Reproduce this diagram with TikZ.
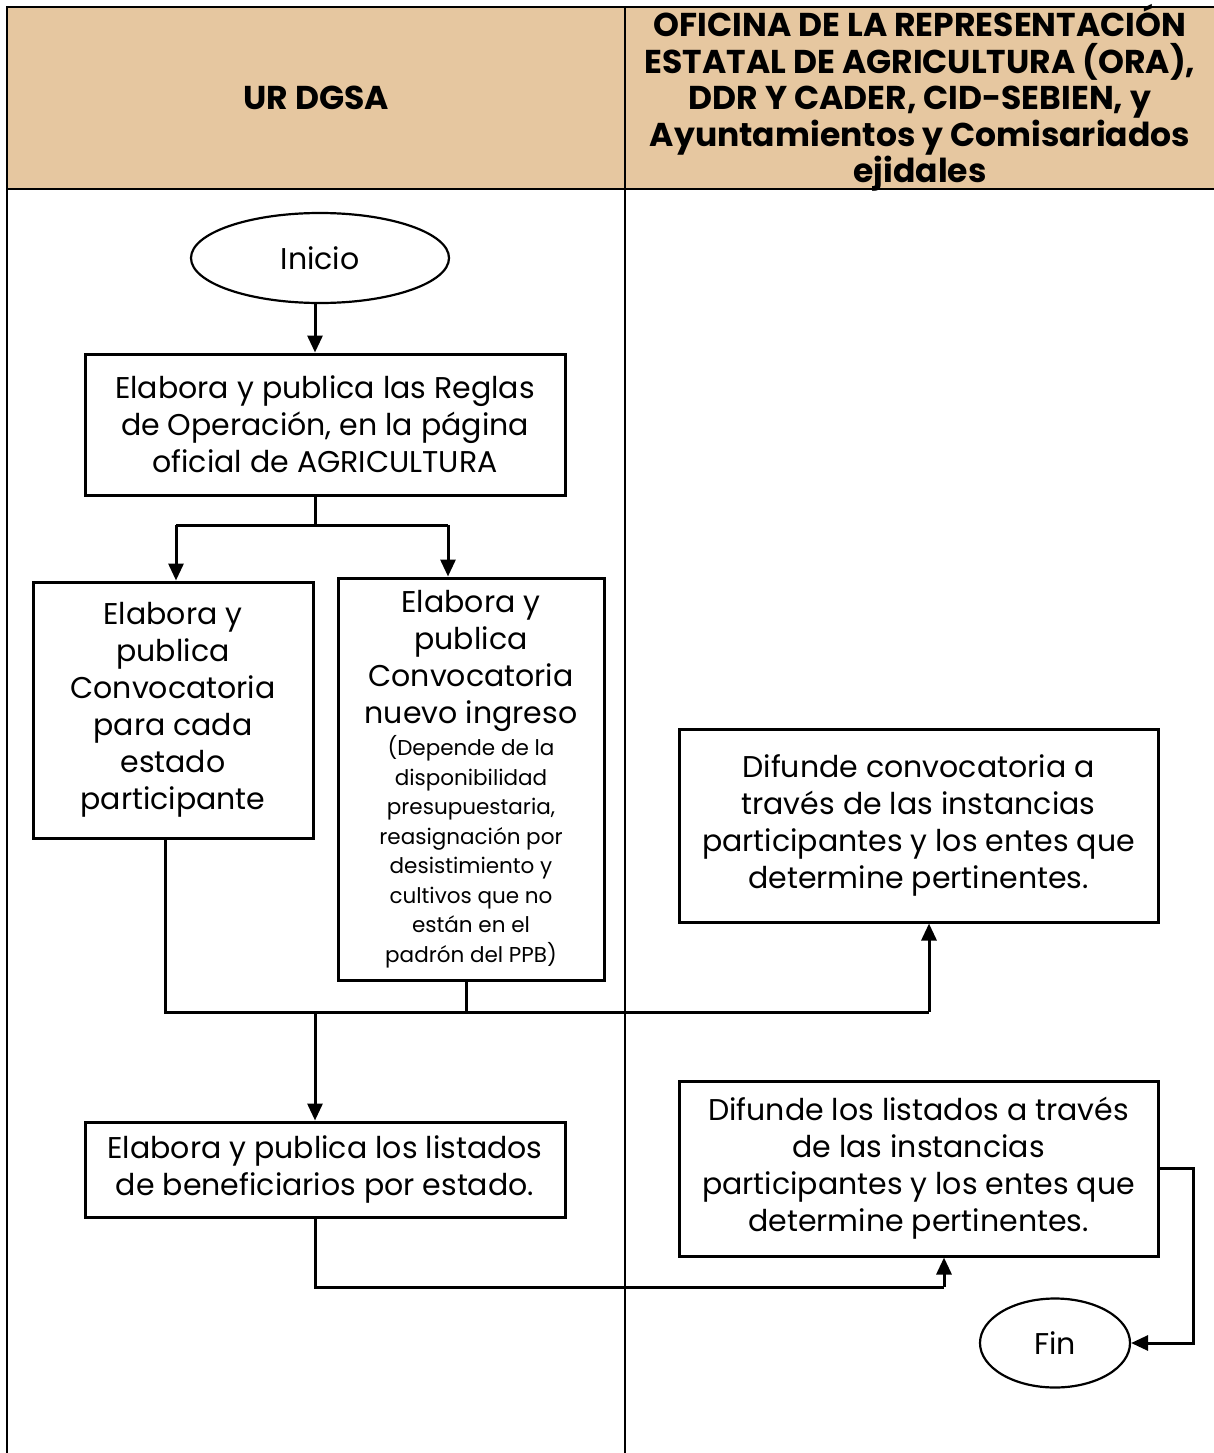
\documentclass[tikz,border=0pt]{standalone}
\usepackage{fontspec}
\setmainfont{Poppins}
\usetikzlibrary{arrows.meta,shapes.geometric}
\definecolor{headtan}{HTML}{E6C7A0}
\newcommand\smtxt{\fontsize{21.5}{29.5}\selectfont}
\tikzset{
  procbox/.style={draw=black, line width=3pt, fill=white, align=center, inner sep=0pt, font=\fontsize{30}{37}\selectfont},
  termnode/.style={draw=black, line width=2.2pt, ellipse, fill=white, inner sep=0pt, font=\fontsize{30}{37}\selectfont},
  conn/.style={draw=black, line width=3pt},
  arr/.style={conn, -{Triangle[length=17pt,width=15pt]}},
  tabline/.style={draw=black, line width=2pt},
  headtext/.style={align=center, font=\bfseries\fontsize{33}{36.5}\selectfont}
}
\begin{document}
\begin{tikzpicture}[x=1pt,y=-1pt]
\useasboundingbox (0,0) rectangle (1214,1453);
% table
\fill[headtan] (7,7) rectangle (1214,189);
\draw[tabline] (1214,7) -- (7,7) -- (7,1453);
\draw[tabline] (7,189) -- (1214,189);
\draw[tabline] (625,7) -- (625,1453);
\node[headtext] (h1) at (316,98) {UR DGSA};
\node[headtext] (h2) at (920,98) {OFICINA DE LA REPRESENTACIÓN\\ESTATAL DE AGRICULTURA (ORA),\\DDR Y CADER, CID-SEBIEN, y\\Ayuntamientos y Comisariados\\ejidales};
% nodes
\node[termnode, minimum width=258pt, minimum height=90pt] (inicio) at (320,258) {Inicio};
\node[procbox, minimum width=480pt, minimum height=141pt] (b1) at (325,424.5) {Elabora y publica las Reglas\\de Operación, en la página\\oficial de AGRICULTURA};
\node[procbox, minimum width=280pt, minimum height=256pt] (b2) at (173,710) {Elabora y\\publica\\Convocatoria\\para cada\\estado\\participante};
\node[procbox, minimum width=266pt, minimum height=402pt] (b3) at (471,779) {Elabora y\\publica\\Convocatoria\\nuevo ingreso\\[-5pt]\smtxt (Depende de la\\[-7.5pt]\smtxt disponibilidad\\[-7.5pt]\smtxt presupuestaria,\\[-7.5pt]\smtxt reasignación por\\[-7.5pt]\smtxt desistimiento y\\[-7.5pt]\smtxt cultivos que no\\[-7.5pt]\smtxt están en el\\[-7.5pt]\smtxt padrón del PPB)};
\node[procbox, minimum width=479pt, minimum height=193pt] (b4) at (918.5,825.5) {Difunde convocatoria a\\través de las instancias\\participantes y los entes que\\determine pertinentes.};
\node[procbox, minimum width=480pt, minimum height=95pt] (b5) at (325,1169.5) {Elabora y publica los listados\\de beneficiarios por estado.};
\node[procbox, minimum width=479pt, minimum height=175pt] (b6) at (918.5,1168.5) {Difunde los listados a través\\de las instancias\\participantes y los entes que\\determine pertinentes.};
\node[termnode, minimum width=150pt, minimum height=89pt] (fin) at (1055,1343) {Fin};
% helper coordinates
\coordinate (split) at (315,525);
\coordinate (join) at (315,1012);
\coordinate (lowrun) at (315,1287);
\coordinate (rightrun) at (1193,1168);
% connectors
\draw[arr] (inicio.south -| split) -- (b1.north -| split);
\draw[conn] (b1.south -| split) -- (split);
\draw[conn] (176,525) -- (448,525);
\draw[arr] (176,525) -- (b2.north -| 176,0);
\draw[arr] (448,525) -- (b3.north -| 448,0);
\draw[conn] (b2.south -| 165,0) -- (165,1012) -- (929,1012);
\draw[arr] (929,1012) -- (b4.south -| 929,0);
\draw[conn] (b3.south -| 466,0) -- (466,1012);
\draw[arr] (join) -- (b5.north -| join);
\draw[conn] (b5.south -| lowrun) -- (lowrun) -- (944,1287);
\draw[arr] (944,1287) -- (b6.south -| 944,0);
\draw[arr] (b6.east |- rightrun) -- (rightrun) -- (rightrun |- fin.east) -- (fin.east);
\end{tikzpicture}
\end{document}
